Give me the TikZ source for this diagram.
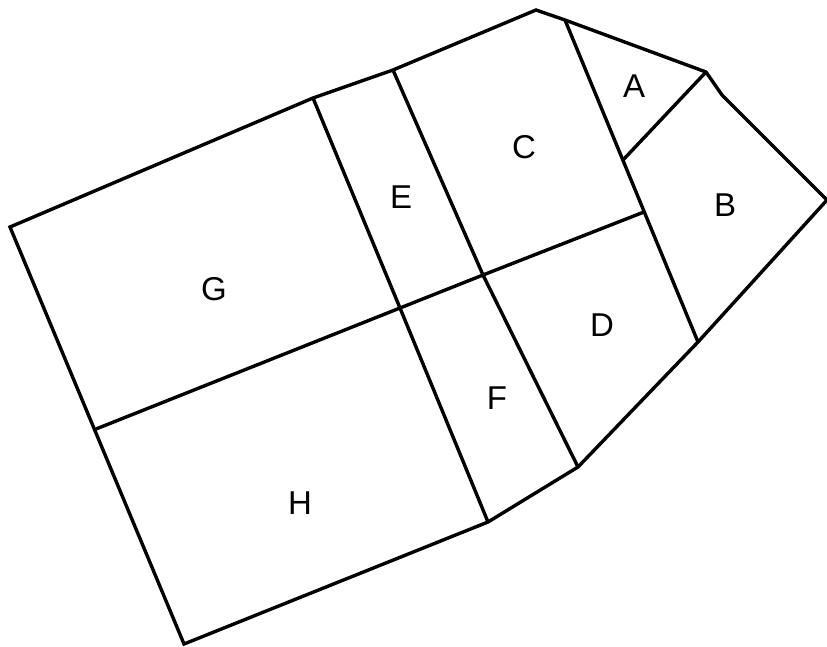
\documentclass[tikz,border=0pt]{standalone}
\usepackage{fontspec}
\setmainfont{Liberation Sans}
\usetikzlibrary{positioning}

\tikzset{
  wall/.style={line width=3.4pt, black},
  zone/.style={font=\fontsize{33}{36}\selectfont, inner sep=0pt}
}

\begin{document}
\begin{tikzpicture}[x=1pt, y=-1pt]
\useasboundingbox (0,0) rectangle (827,646);

% Vertici del contorno
\coordinate (top)  at (536,10);
\coordinate (kA)   at (565,20);
\coordinate (pA)   at (706,72);
\coordinate (kB)   at (722,95);
\coordinate (pB)   at (827,200);
\coordinate (bD)   at (698,342);
\coordinate (pD)   at (578,467);
\coordinate (pF)   at (488,522);
\coordinate (pH)   at (184,644);
\coordinate (pG)   at (10,227);
\coordinate (tG)   at (313,98);
\coordinate (tE)   at (393,70);

% Incroci interni
\coordinate (mAB)  at (623,160);
\coordinate (mCD)  at (644,212);
\coordinate (mGH)  at (96,429);
\coordinate (xEF)  at (400,308);
\coordinate (xCD)  at (483,275);

% Contorno
\draw[wall] (top) -- (kA) -- (pA) -- (kB) -- (pB) -- (bD) -- (pD) -- (pF)
  -- (pH) -- (pG) -- (tG) -- (tE) -- cycle;

% Divisioni
\draw[wall] (tG) -- (xEF) -- (pF);
\draw[wall] (tE) -- (xCD) -- (pD);
\draw[wall] (kA) -- (bD);
\draw[wall] (pA) -- (mAB);
\draw[wall] (mGH) -- (xEF) -- (xCD) -- (mCD);

% Etichette
\node[zone] (A) at (634,86)  {A};
\node[zone] (B) at (725,205) {B};
\node[zone] (C) at (524,147) {C};
\node[zone] (D) at (602,325) {D};
\node[zone] (E) at (401,197) {E};
\node[zone] (F) at (497,398) {F};
\node[zone] (G) at (214,289) {G};
\node[zone] (H) at (300,503) {H};

\end{tikzpicture}
\end{document}
